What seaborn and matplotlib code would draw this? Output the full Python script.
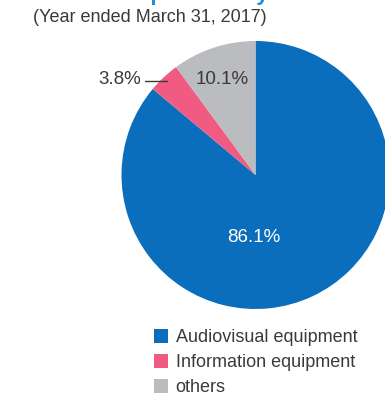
import matplotlib
matplotlib.use("Agg")
import matplotlib.pyplot as plt
import seaborn as sns

# ---- data ----
categories = ["Audiovisual equipment", "Information equipment", "others"]
shares = [86.1, 3.8, 10.1]
share_labels = ["86.1%", "3.8%", "10.1%"]
colors = ["#0a6ebd", "#ef5b81", "#bbbcc0"]
title = "Sales Composition by Products"
subtitle = "(Year ended March 31, 2017)"

sns.set_theme(style="white")
plt.rcParams["font.family"] = ["Liberation Sans", "DejaVu Sans"]

W, H = 385, 395
fig = plt.figure(figsize=(W / 100, H / 100), dpi=100)
ax = fig.add_axes([0, 0, 1, 1])

cx, cy, r = 255.5, H - 175, 134
wedges, _ = ax.pie(shares, colors=colors, startangle=90, counterclock=False,
                   center=(cx, cy), radius=r, frame=True,
                   wedgeprops=dict(linewidth=0))
ax.set_xlim(0, W)
ax.set_ylim(0, H)
ax.set_aspect("auto")
ax.axis("off")

txt = "#3a3a3a"
ax.text(254, H - 238, share_labels[0], color="white", fontsize=13.5,
        ha="center", va="center")
ax.text(222.5, H - 80, share_labels[2], color=txt, fontsize=13.5,
        ha="center", va="center")
ax.text(141, H - 80, share_labels[1], color=txt, fontsize=13.5,
        ha="right", va="center")
ax.plot([145, 167], [H - 81, H - 81], color=txt, lw=1)

ax.text(37, H - 0.1, title, color="#1e8fd5", fontsize=16, fontweight="bold",
        ha="left", va="baseline")
ax.text(33, H - 18, subtitle, color=txt, fontsize=13, ha="left", va="center")

leg = ax.legend(wedges, categories, loc="upper left",
                bbox_to_anchor=(154 / W, 1 - 329 / H),
                bbox_transform=fig.transFigure, frameon=False,
                fontsize=13, handlelength=0.78, handleheight=0.78,
                handletextpad=0.42, labelspacing=0.44, borderpad=0,
                borderaxespad=0)
for t in leg.get_texts():
    t.set_color(txt)

fig.savefig("out.png", dpi=100)
